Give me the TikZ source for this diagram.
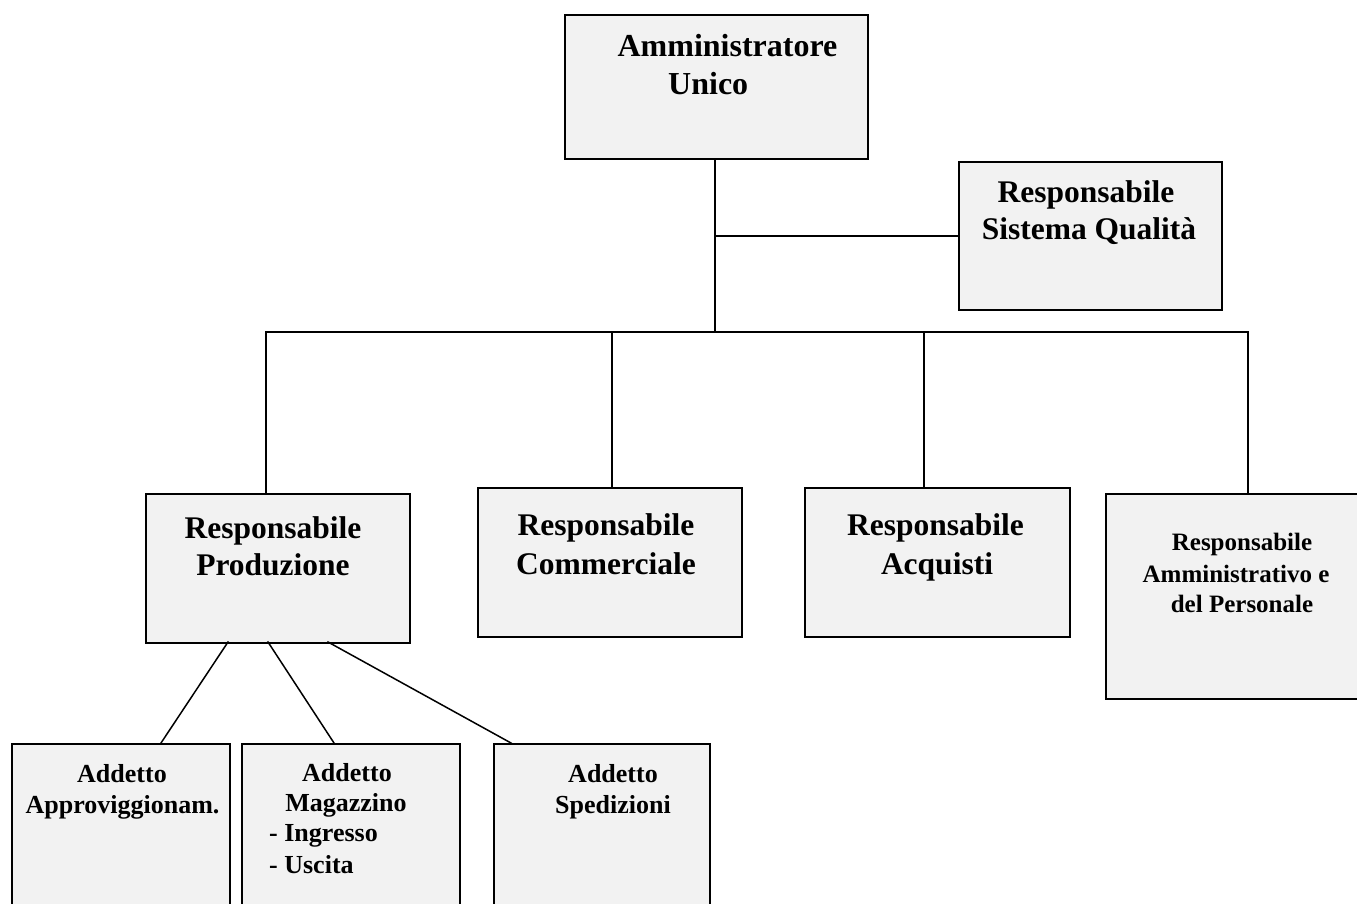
\documentclass[tikz,border=0pt]{standalone}
\usepackage{fontspec}
\setmainfont{Liberation Serif}
\definecolor{boxgray}{HTML}{F2F2F2}
\begin{document}
\begin{tikzpicture}[x=1pt,y=-1pt,
  box/.style={draw=black, line width=1.8pt, fill=boxgray, rectangle, inner sep=0pt, anchor=north west},
  conn/.style={line width=1.5pt, line cap=rect},
  big/.style={font=\bfseries\fontsize{31.5}{37}\selectfont, inner sep=0pt, anchor=base},
  top/.style={font=\bfseries\fontsize{32}{38}\selectfont, inner sep=0pt, anchor=base},
  mid/.style={font=\bfseries\fontsize{25}{30}\selectfont, inner sep=0pt, anchor=base},
  small/.style={font=\bfseries\fontsize{26}{31}\selectfont, inner sep=0pt, anchor=base}]
\useasboundingbox (0,0) rectangle (1357,904);
\clip (0,0) rectangle (1357,904);

% boxes
\node[box, minimum width=303pt, minimum height=144pt] (au) at (564,14) {};
\node[box, minimum width=263pt, minimum height=148pt] (qs) at (958,161) {};
\node[box, minimum width=264pt, minimum height=149pt] (prod) at (145,493) {};
\node[box, minimum width=264pt, minimum height=149pt] (comm) at (477,487) {};
\node[box, minimum width=265pt, minimum height=149pt] (acq) at (804,487) {};
\node[box, minimum width=280pt, minimum height=205pt] (amm) at (1105,493) {};
\node[box, minimum width=218pt, minimum height=200pt] (a1) at (11,743) {};
\node[box, minimum width=218pt, minimum height=200pt] (a2) at (241,743) {};
\node[box, minimum width=216pt, minimum height=200pt] (a3) at (493,743) {};

% junction coordinates
\coordinate (j1) at (715,236);
\coordinate (bus) at (715,332);
\coordinate (busL) at (266,332);
\coordinate (busR) at (1248,332);
\coordinate (d2) at (612,332);
\coordinate (d3) at (924,332);
\coordinate (p1) at (228,642);
\coordinate (p2) at (268,642);
\coordinate (p3) at (328,642);
\coordinate (q1) at (161,743);
\coordinate (q2) at (334,743);
\coordinate (q3) at (511,743);

% connectors
\draw[conn] (au.south -| bus) -- (bus);
\draw[conn] (j1) -- (qs.west |- j1);
\draw[conn] (busL) -- (busR);
\draw[conn] (busL) -- (busL |- prod.north);
\draw[conn] (d2) -- (d2 |- comm.north);
\draw[conn] (d3) -- (d3 |- acq.north);
\draw[conn] (busR) -- (busR |- amm.north);
\draw[conn] (p1) -- (q1);
\draw[conn] (p2) -- (q2);
\draw[conn] (p3) -- (q3);

% texts
\node[top] (au1) at (727.5,57) {Amministratore};
\node[top, anchor=base west] (au2) at (668,95) {Unico};

\node[big] (qs1) at (1086,203) {Responsabile};
\node[big] (qs2) at (1089,240) {Sistema Qualità};

\node[big] (pr1) at (273,538) {Responsabile};
\node[big] (pr2) at (273,575) {Produzione};

\node[big] (co1) at (606,535) {Responsabile};
\node[big] (co2) at (606,574) {Commerciale};

\node[big] (ac1) at (935.5,535) {Responsabile};
\node[big] (ac2) at (937,574) {Acquisti};

\node[mid] (am1) at (1242,550) {Responsabile};
\node[mid] (am2) at (1236,582) {Amministrativo e};
\node[mid] (am3) at (1242,612) {del Personale};

\node[small] (x11) at (122,782) {Addetto};
\node[small] (x12) at (122.5,813) {Approviggionam.};

\node[small] (x21) at (347,781) {Addetto};
\node[small] (x22) at (346,811) {Magazzino};
\node[small, anchor=base west] (x23) at (269,841) {- Ingresso};
\node[small, anchor=base west] (x24) at (269,873) {- Uscita};

\node[small] (x31) at (613,782) {Addetto};
\node[small] (x32) at (613,813) {Spedizioni};
\end{tikzpicture}
\end{document}
